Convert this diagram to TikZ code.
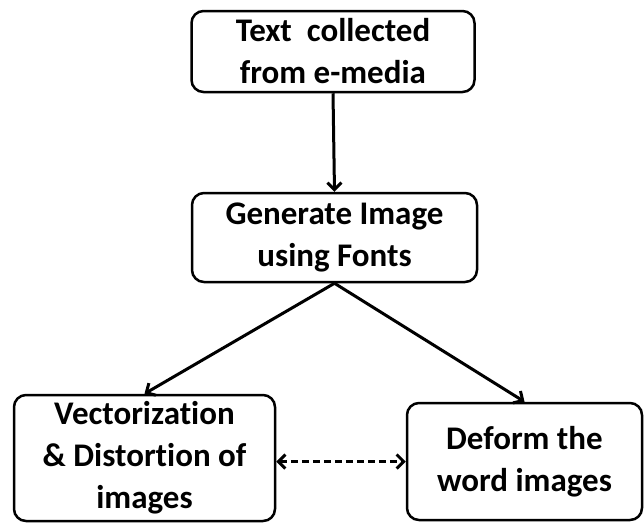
\documentclass[tikz,border=0pt]{standalone}
\usepackage{fontspec}
\setmainfont{Carlito}[Ligatures=NoCommon]
\usetikzlibrary{positioning,shapes,arrows,arrows.meta}

\begin{document}
\begin{tikzpicture}
  [x=1pt,y=-1pt,>={Straight Barb[length=7pt,width=14pt]},every node/.style={draw, rounded corners=12pt, line width=2.5pt, align=center, inner sep=0pt, font=\fontsize{33}{42}\selectfont\bfseries}]
  \useasboundingbox (0,0) rectangle (644,523);

  \node[minimum width=283pt, minimum height=81pt] (text) at (333,51.5) {Text\ \ collected\\from e-media};
  \node[minimum width=285pt, minimum height=89pt] (gen) at (334.5,237.5) {Generate Image\\using Fonts};
  \node[minimum width=261pt, minimum height=126pt] (vect) at (144.5,458) {Vectorization\\\&~Distortion of\\images};
  \node[minimum width=235pt, minimum height=117pt] (deform) at (524.5,461.5) {Deform the\\word images};

  \foreach \from/\to in {text.south/gen.north, gen.south/vect.north, gen.south/deform.north}
    \draw[line width=3pt, ->] (\from) -- (\to);
  \draw[line width=3pt, dash pattern=on 7pt off 4pt, <->] (vect.east |- deform.west) -- (deform.west);
\end{tikzpicture}
\end{document}
